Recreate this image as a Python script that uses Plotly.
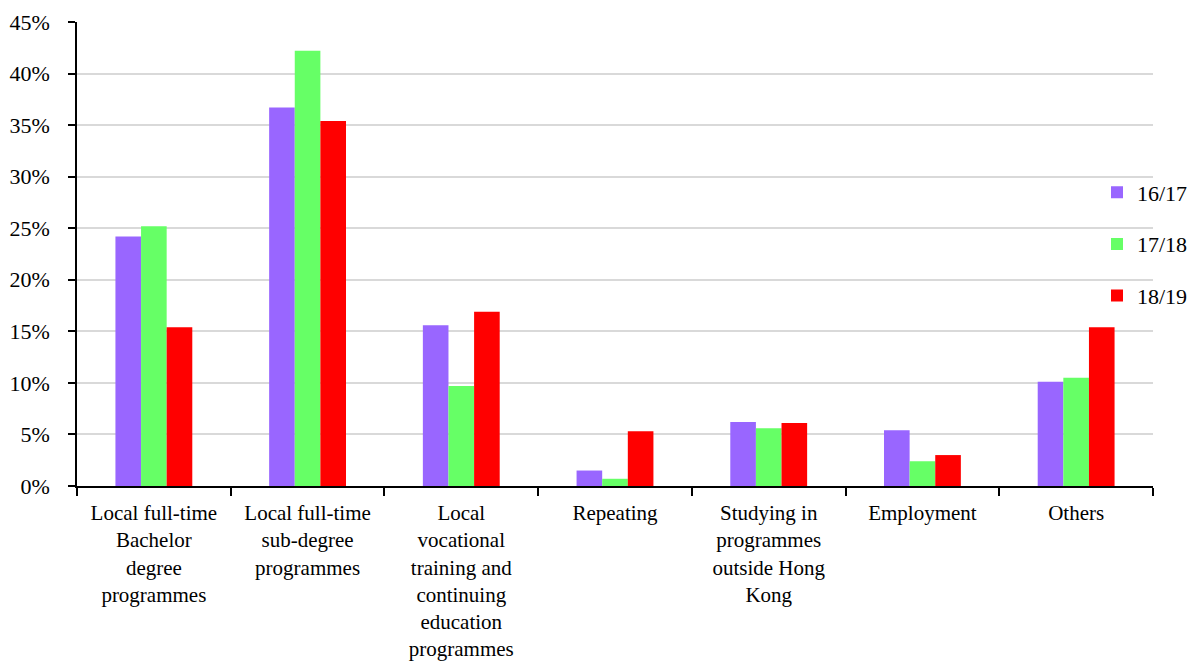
import plotly.graph_objects as go

categories = [
    "Local full-time<br>Bachelor<br>degree<br>programmes",
    "Local full-time<br>sub-degree<br>programmes",
    "Local<br>vocational<br>training and<br>continuing<br>education<br>programmes",
    "Repeating",
    "Studying in<br>programmes<br>outside Hong<br>Kong",
    "Employment",
    "Others",
]
series_names = ["16/17", "17/18", "18/19"]
v_1617 = [24.2, 36.7, 15.6, 1.5, 6.2, 5.4, 10.1]
v_1718 = [25.2, 42.2, 9.7, 0.7, 5.6, 2.4, 10.5]
v_1819 = [15.4, 35.4, 16.9, 5.3, 6.1, 3.0, 15.4]
colors = ["#9966FF", "#66FF66", "#FF0000"]
y_ticks = [0, 5, 10, 15, 20, 25, 30, 35, 40, 45]

fig = go.Figure()
for i, (name, vals) in enumerate(zip(series_names, [v_1617, v_1718, v_1819])):
    fig.add_trace(go.Bar(
        x=categories, y=vals, name=name,
        marker=dict(color=colors[i], line=dict(width=0)),
        legendgroup=name,
    ))

font_family = "Liberation Serif"
fs = 22
W, H = 1190, 656  # page body adds an 8px offset
fig.update_layout(
    width=W, height=H,
    margin=dict(l=69, r=45, t=14, b=178, autoexpand=False),
    paper_bgcolor="white", plot_bgcolor="white",
    barmode="group", bargap=0.5, bargroupgap=0,
    font=dict(family=font_family, size=fs, color="black"),
    showlegend=True,
    legend=dict(
        xref="container", yref="container",
        x=(1097 - 8) / W, xanchor="left", y=1 - (244 - 8) / H, yanchor="middle",
        font=dict(family=font_family, size=fs, color="black"),
        tracegroupgap=20, bgcolor="rgba(0,0,0,0)",
        itemwidth=30,
    ),
)
fig.update_xaxes(
    type="category", tickson="boundaries", ticks="outside", ticklen=8,
    tickwidth=1.5, tickcolor="black",
    showline=True, linecolor="black", linewidth=1.5,
    showgrid=False, automargin=False, ticklabelstandoff=7,
    tickfont=dict(family=font_family, size=21, color="black"),
)
fig.update_yaxes(
    range=[0, 45], tickvals=y_ticks,
    ticktext=[f"{t}%" for t in y_ticks],
    ticks="outside", ticklen=7, tickwidth=1.5, tickcolor="black",
    showline=True, linecolor="black", linewidth=1.5,
    showgrid=True, gridcolor="#d9d9d9", gridwidth=1.5,
    zeroline=False, automargin=False, ticklabelstandoff=14,
    tickfont=dict(family=font_family, size=fs, color="black"),
)
fig.write_html("out.html")
